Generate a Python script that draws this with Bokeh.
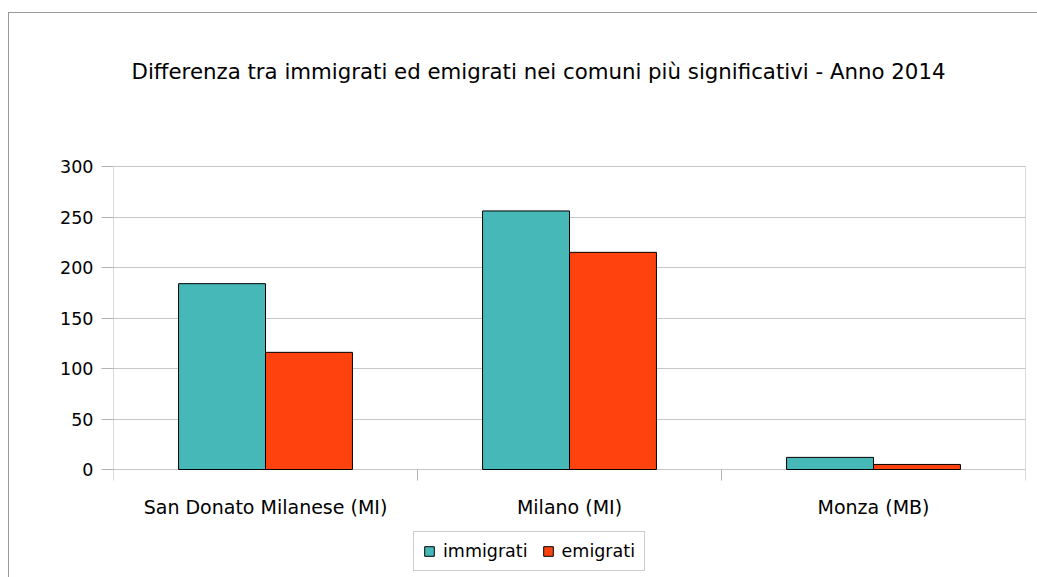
from bokeh.plotting import figure
from bokeh.models import (ColumnDataSource, FactorRange, Range1d, FixedTicker,
                          Legend, LegendItem)
from bokeh.core.properties import value
from bokeh.transform import dodge
from bokeh.embed import file_html
from bokeh.resources import INLINE

# ---- data ----
categories = ["San Donato Milanese (MI)", "Milano (MI)", "Monza (MB)"]
immigrati = [184, 256, 12]
emigrati = [116, 215, 5]
y_ticks = [0, 50, 100, 150, 200, 250, 300]
title_text = "Differenza tra immigrati ed emigrati nei comuni più significativi - Anno 2014"

# ---- layout constants (pixels) ----
W, H = 1037, 577
FRAME_L, FRAME_R = 113, 1025
Y_TOP_PX, Y_ZERO_PX = 166, 469          # pixel rows of the 300 and 0 gridlines
ppu = (Y_ZERO_PX - Y_TOP_PX) / max(y_ticks)   # pixels per unit


def py(px):
    """data value at pixel row px"""
    return (Y_ZERO_PX - px) / ppu


FONT = "DejaVu Sans"
GRID = "#c6c6c6"
AXIS = "#b3b3b3"
C_IMM = "#47b8b8"
C_EMI = "#ff420e"

source = ColumnDataSource(dict(cat=categories, immigrati=immigrati, emigrati=emigrati))

p = figure(x_range=FactorRange(*categories), y_range=Range1d(py(H), py(0)),
           width=W, height=H, output_backend="svg", toolbar_location=None,
           min_border_left=FRAME_L, min_border_right=W - FRAME_R,
           min_border_top=0, min_border_bottom=0)

p.styles = {
    "background-image": "linear-gradient(#999999,#999999), linear-gradient(#999999,#999999)",
    "background-size": "1px 100%, 100% 1px",
    "background-position": "8px 12px, 8px 12px",
    "background-repeat": "no-repeat",
}
p.border_fill_color = None
p.background_fill_color = None
p.outline_line_color = None

# y axis
p.yaxis.ticker = FixedTicker(ticks=y_ticks)
p.yaxis.major_tick_out = 12
p.yaxis.major_tick_in = 0
p.yaxis.minor_tick_line_color = None
p.yaxis.major_tick_line_color = AXIS
p.yaxis.axis_line_color = None
p.yaxis.major_label_standoff = 8
p.yaxis.major_label_text_font = FONT
p.yaxis.major_label_text_font_size = "17.5px"
p.yaxis.major_label_text_color = "#000000"

p.xaxis.visible = False
p.xgrid.grid_line_color = None
p.ygrid.grid_line_color = GRID

# plot-area frame lines: left/right sides, and category separators below zero
n = len(categories)
sep_low = py(480)
bounds = list(range(0, n + 1))
p.segment(x0=bounds, y0=[sep_low] * len(bounds), x1=bounds, y1=[0] * len(bounds),
          line_color=AXIS, line_width=1)
p.segment(x0=[0, n], y0=[0, 0], x1=[0, n], y1=[max(y_ticks)] * 2,
          line_color=AXIS, line_width=1)

# bars
bw = 0.286
r1 = p.vbar(x=dodge("cat", -bw / 2, range=p.x_range), top="immigrati", width=bw,
            source=source, fill_color=C_IMM, line_color="#000000", line_width=1)
r2 = p.vbar(x=dodge("cat", bw / 2, range=p.x_range), top="emigrati", width=bw,
            source=source, fill_color=C_EMI, line_color="#000000", line_width=1)

# category labels
p.text(x="cat", y=py(506), text="cat", source=source,
       text_align="center", text_baseline="middle",
       text_font=value(FONT), text_font_size="19px", text_color="#000000")

# title
title_x = (538 - FRAME_L) / ((FRAME_R - FRAME_L) / n)
p.text(x=[title_x], y=[py(71)], text=[title_text],
       text_align="center", text_baseline="middle",
       text_font=value(FONT), text_font_size="21.3px", text_color="#000000")

# legend
legend = Legend(items=[LegendItem(label="immigrati", renderers=[r1]),
                       LegendItem(label="emigrati", renderers=[r2])],
                orientation="horizontal", location=(413 - FRAME_L, H - 571))
legend.margin = 0
legend.padding = 9
legend.spacing = 14
legend.label_standoff = 8
legend.glyph_width = 12
legend.glyph_height = 12
legend.label_height = 20
legend.label_text_font = FONT
legend.label_text_font_size = "17.5px"
legend.label_text_color = "#000000"
legend.border_line_color = "#999999"
legend.border_line_width = 1
legend.background_fill_color = "#ffffff"
legend.background_fill_alpha = 1
p.add_layout(legend, "center")

open("out.html", "w").write(file_html(p, INLINE))
